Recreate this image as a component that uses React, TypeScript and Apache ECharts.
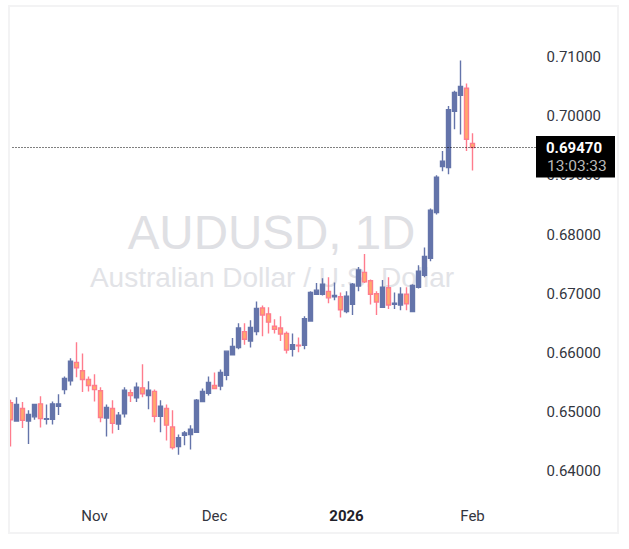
import React, { useEffect, useRef } from 'react';
import * as echarts from 'echarts';

const symbol = 'AUDUSD, 1D';
const description = 'Australian Dollar / U.S. Dollar';
const lastPrice = 0.6947;
const countdown = '13:03:33';

// open, close, low, high
const candles: number[][] = [
    [0.6516, 0.6487, 0.6442, 0.6521],
    [0.6485, 0.6513, 0.6485, 0.6525],
    [0.6506, 0.6486, 0.6473, 0.6517],
    [0.6485, 0.6496, 0.6446, 0.6503],
    [0.6492, 0.6513, 0.6487, 0.6513],
    [0.6514, 0.6489, 0.6474, 0.6527],
    [0.6488, 0.6489, 0.6479, 0.6513],
    [0.6488, 0.6514, 0.6479, 0.6518],
    [0.651, 0.6514, 0.6495, 0.653],
    [0.6538, 0.6557, 0.653, 0.656],
    [0.6553, 0.6586, 0.6545, 0.6591],
    [0.6584, 0.6575, 0.6559, 0.6618],
    [0.657, 0.6555, 0.6534, 0.6599],
    [0.6555, 0.6545, 0.6535, 0.656],
    [0.6545, 0.6538, 0.6518, 0.6564],
    [0.6536, 0.6491, 0.6483, 0.6542],
    [0.649, 0.6508, 0.6459, 0.6513],
    [0.6506, 0.6481, 0.6464, 0.652],
    [0.648, 0.6495, 0.647, 0.65],
    [0.6497, 0.6537, 0.6491, 0.6542],
    [0.6533, 0.6528, 0.6517, 0.6538],
    [0.6524, 0.6542, 0.6517, 0.655],
    [0.6541, 0.6531, 0.6525, 0.6581],
    [0.6528, 0.6537, 0.6505, 0.6552],
    [0.6535, 0.6493, 0.6483, 0.6538],
    [0.6493, 0.651, 0.6466, 0.652],
    [0.6506, 0.6478, 0.6452, 0.6513],
    [0.6475, 0.644, 0.6437, 0.6503],
    [0.6442, 0.6457, 0.6428, 0.6462],
    [0.6461, 0.6465, 0.6444, 0.6468],
    [0.6462, 0.6471, 0.6437, 0.6478],
    [0.6466, 0.652, 0.6466, 0.6522],
    [0.6518, 0.6535, 0.6517, 0.654],
    [0.6532, 0.655, 0.6528, 0.656],
    [0.6545, 0.654, 0.6539, 0.6567],
    [0.6544, 0.6567, 0.6537, 0.6572],
    [0.6562, 0.6603, 0.6554, 0.6603],
    [0.6597, 0.6611, 0.6597, 0.6625],
    [0.6609, 0.6642, 0.6606, 0.665],
    [0.6636, 0.6623, 0.6614, 0.665],
    [0.662, 0.6643, 0.6609, 0.6655],
    [0.6636, 0.6675, 0.663, 0.6687],
    [0.6676, 0.6664, 0.6628, 0.668],
    [0.6666, 0.6652, 0.6633, 0.6677],
    [0.6645, 0.664, 0.6633, 0.6657],
    [0.6642, 0.6632, 0.662, 0.6662],
    [0.6633, 0.6605, 0.6599, 0.6636],
    [0.6606, 0.6614, 0.6594, 0.6633],
    [0.6613, 0.6612, 0.6601, 0.6626],
    [0.6613, 0.6658, 0.6606, 0.6662],
    [0.6654, 0.6702, 0.6653, 0.6704],
    [0.6699, 0.6706, 0.6699, 0.6718],
    [0.6699, 0.6716, 0.6697, 0.6726],
    [0.6704, 0.6693, 0.6684, 0.6728],
    [0.6695, 0.6697, 0.6689, 0.6719],
    [0.6695, 0.6673, 0.666, 0.6702],
    [0.667, 0.6696, 0.6667, 0.6704],
    [0.6682, 0.6716, 0.6664, 0.6718],
    [0.6713, 0.674, 0.6704, 0.6745],
    [0.6736, 0.672, 0.6718, 0.6767],
    [0.6722, 0.6699, 0.6682, 0.6724],
    [0.67, 0.6686, 0.6664, 0.6704],
    [0.6677, 0.6711, 0.6677, 0.6723],
    [0.671, 0.6681, 0.6674, 0.6728],
    [0.6682, 0.6684, 0.6674, 0.6702],
    [0.6681, 0.6699, 0.6672, 0.6711],
    [0.6699, 0.6683, 0.6672, 0.6711],
    [0.667, 0.6714, 0.6669, 0.6716],
    [0.6711, 0.6738, 0.6709, 0.6748],
    [0.6731, 0.6763, 0.6728, 0.6778],
    [0.676, 0.6841, 0.6755, 0.6844],
    [0.6837, 0.6897, 0.6834, 0.69],
    [0.6915, 0.6924, 0.6907, 0.6941],
    [0.6913, 0.7011, 0.6902, 0.7017],
    [0.7008, 0.704, 0.6978, 0.7043],
    [0.7035, 0.705, 0.6969, 0.7094],
    [0.7047, 0.6961, 0.6941, 0.7055],
    [0.6954, 0.6947, 0.6908, 0.6971],
];

// bars of empty space kept to the right of the last candle
const slotCount = 89;
const categories = Array.from({ length: slotCount }, (_, i) => String(i));
const timeLabels = ['Nov', 'Dec', '2026', 'Feb'];
const timeLabelSlots = [14, 34, 56, 77];
const priceTicks = [0.64, 0.65, 0.66, 0.67, 0.68, 0.69, 0.7, 0.71];

const FONT = 'Roboto, Arial, sans-serif';
const TEXT_COLOR = '#333640';

const App: React.FC = () => {
    const chartRef = useRef<HTMLDivElement>(null);

    useEffect(() => {
        const chart = echarts.init(chartRef.current!, undefined, { renderer: 'svg' });
        chart.setOption({
            animation: false,
            backgroundColor: '#ffffff',
            textStyle: { fontFamily: FONT },
            grid: { left: 10.5, top: 27.32, width: 528, height: 473.6 },
            xAxis: {
                type: 'category',
                data: categories,
                boundaryGap: false,
                axisLine: { show: false },
                axisTick: { show: false },
                splitLine: { show: false },
                axisLabel: {
                    interval: (i: number) => timeLabelSlots.includes(i),
                    formatter: (_: string, i: number) => {
                        const label = timeLabels[timeLabelSlots.indexOf(i)] ?? '';
                        return label === '2026' ? `{year|${label}}` : label;
                    },
                    color: TEXT_COLOR,
                    fontSize: 15,
                    margin: 8,
                    rich: {
                        year: { fontWeight: 'bold', fontSize: 15, color: '#1f2129', fontFamily: FONT },
                    },
                },
            },
            yAxis: {
                type: 'value',
                position: 'right',
                min: 0.635,
                max: 0.715,
                axisLine: { show: false },
                axisTick: { show: false },
                splitLine: { show: false },
                axisLabel: {
                    customValues: priceTicks,
                    formatter: (v: number) => v.toFixed(5),
                    color: TEXT_COLOR,
                    fontSize: 15,
                    margin: 8,
                },
            },
            series: [
                {
                    type: 'candlestick',
                    data: candles,
                    barWidth: 5,
                    itemStyle: {
                        color: '#6474aa',
                        borderColor: '#6474aa',
                        color0: '#ffa96b',
                        borderColor0: '#ff7c8d',
                        borderWidth: 1.4,
                    },
                    markLine: {
                        silent: true,
                        symbol: 'none',
                        precision: 5,
                        label: { show: false },
                        lineStyle: { color: '#000000', type: [1, 2], dashOffset: 0.5, width: 1 },
                        data: [{ yAxis: lastPrice }],
                    },
                },
            ],
            graphic: [
                // candlesticks are not clipped at the grid edge, so the first one is cut here
                {
                    type: 'rect',
                    z: 10,
                    shape: { x: 0, y: 0, width: 10, height: 549 },
                    style: { fill: '#ffffff' },
                },
                {
                    type: 'rect',
                    z: 11,
                    shape: { x: 9, y: 6, width: 609, height: 527 },
                    style: { fill: 'none', stroke: '#f3f3f4', lineWidth: 2 },
                },
                {
                    type: 'text',
                    z: 0,
                    x: 271.5,
                    y: 232,
                    style: {
                        text: symbol,
                        fontFamily: 'Liberation Sans, Arial, sans-serif',
                        fontSize: 47.5,
                        fill: '#dfe0e4',
                        align: 'center',
                        verticalAlign: 'middle',
                    },
                },
                {
                    type: 'text',
                    z: 0,
                    x: 272,
                    y: 277,
                    style: {
                        text: description,
                        fontFamily: 'Liberation Sans, Arial, sans-serif',
                        fontSize: 28,
                        fill: '#e2e3e7',
                        align: 'center',
                        verticalAlign: 'middle',
                    },
                },
                {
                    type: 'rect',
                    z: 20,
                    shape: { x: 536, y: 136, width: 79, height: 41.5 },
                    style: { fill: '#000000' },
                },
                {
                    type: 'text',
                    z: 21,
                    x: 546,
                    y: 148,
                    style: {
                        text: lastPrice.toFixed(5),
                        fontFamily: FONT,
                        fontSize: 15,
                        fontWeight: 'bold',
                        fill: '#ffffff',
                        verticalAlign: 'middle',
                    },
                },
                {
                    type: 'text',
                    z: 21,
                    x: 547,
                    y: 166,
                    style: {
                        text: countdown,
                        fontFamily: FONT,
                        fontSize: 15.5,
                        fill: '#b8b8b8',
                        verticalAlign: 'middle',
                    },
                },
            ],
        });
        return () => {
            chart.dispose();
        };
    }, []);

    return <div ref={chartRef} style={{ position: 'fixed', left: 0, top: 0, width: 629, height: 549 }} />;
};

export default App;
